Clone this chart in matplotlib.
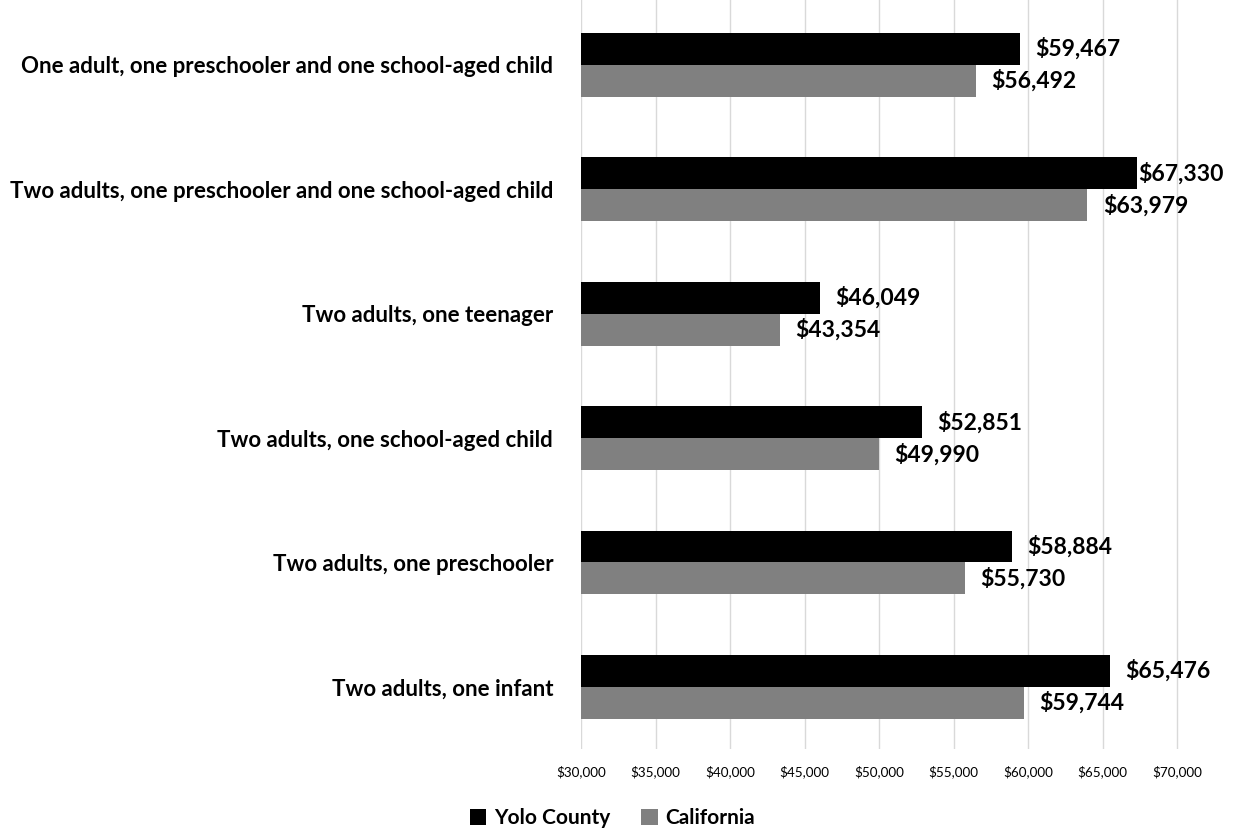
import matplotlib.pyplot as plt
import numpy as np

plt.rcParams['font.family'] = ['Lato', 'DejaVu Sans']

categories = [
    "One adult, one preschooler and one school-aged child",
    "Two adults, one preschooler and one school-aged child",
    "Two adults, one teenager",
    "Two adults, one school-aged child",
    "Two adults, one preschooler",
    "Two adults, one infant",
]
yolo = [59467, 67330, 46049, 52851, 58884, 65476]
california = [56492, 63979, 43354, 49990, 55730, 59744]
xticks = [30000, 35000, 40000, 45000, 50000, 55000, 60000, 65000, 70000]

fig = plt.figure(figsize=(12.37, 8.33), dpi=100)
ax = fig.add_axes([0.4697, 0.1008, 0.494, 0.8992])

y = np.arange(len(categories))
h = 0.257
base = 30000
b1 = ax.barh(y - h / 2, np.array(yolo) - base, left=base, height=h, color="black", label="Yolo County")
b2 = ax.barh(y + h / 2, np.array(california) - base, left=base, height=h, color="#808080", label="California")

labels = []
for yy, v in zip(y, yolo):
    labels.append(ax.annotate(f"${v:,}", (v, yy - h / 2), xytext=(11, 0), textcoords="offset points",
                              va="center", ha="left", fontsize=16.5, fontweight="bold",
                              annotation_clip=False))
for yy, v in zip(y, california):
    labels.append(ax.annotate(f"${v:,}", (v, yy + h / 2), xytext=(11, 0), textcoords="offset points",
                              va="center", ha="left", fontsize=16.5, fontweight="bold",
                              annotation_clip=False))

ax.set_xlim(30000, 71000)
ax.set_ylim(len(categories) - 0.5, -0.5225)
ax.set_xticks(xticks)
ax.set_xticklabels([f"${t:,}" for t in xticks], fontsize=9.7)
ax.set_yticks(y)
ax.set_yticklabels(categories, fontsize=16, fontweight="bold")
ax.tick_params(axis="both", length=0)
ax.tick_params(axis="y", pad=20)
ax.tick_params(axis="x", pad=12)
ax.grid(axis="x", color="#d9d9d9", linewidth=1)
ax.set_axisbelow(True)
for s in ax.spines.values():
    s.set_visible(False)

fig.legend(handles=[b1, b2], loc="center", bbox_to_anchor=(0.495, 0.018), ncol=2, frameon=False,
           prop={"weight": "bold", "size": 15}, handlelength=0.8, handleheight=0.8,
           columnspacing=1.5, handletextpad=0.35)

# pull labels that run off the right edge back inside, like Excel does
fig.canvas.draw()
renderer = fig.canvas.get_renderer()
limit = fig.bbox.width - 13
for lab in labels:
    bb = lab.get_window_extent(renderer)
    if bb.x1 > limit:
        dx = (limit - bb.x1) * 72 / fig.dpi
        lab.set_position((11 + dx, 0))

fig.savefig("out.png", dpi=100)
